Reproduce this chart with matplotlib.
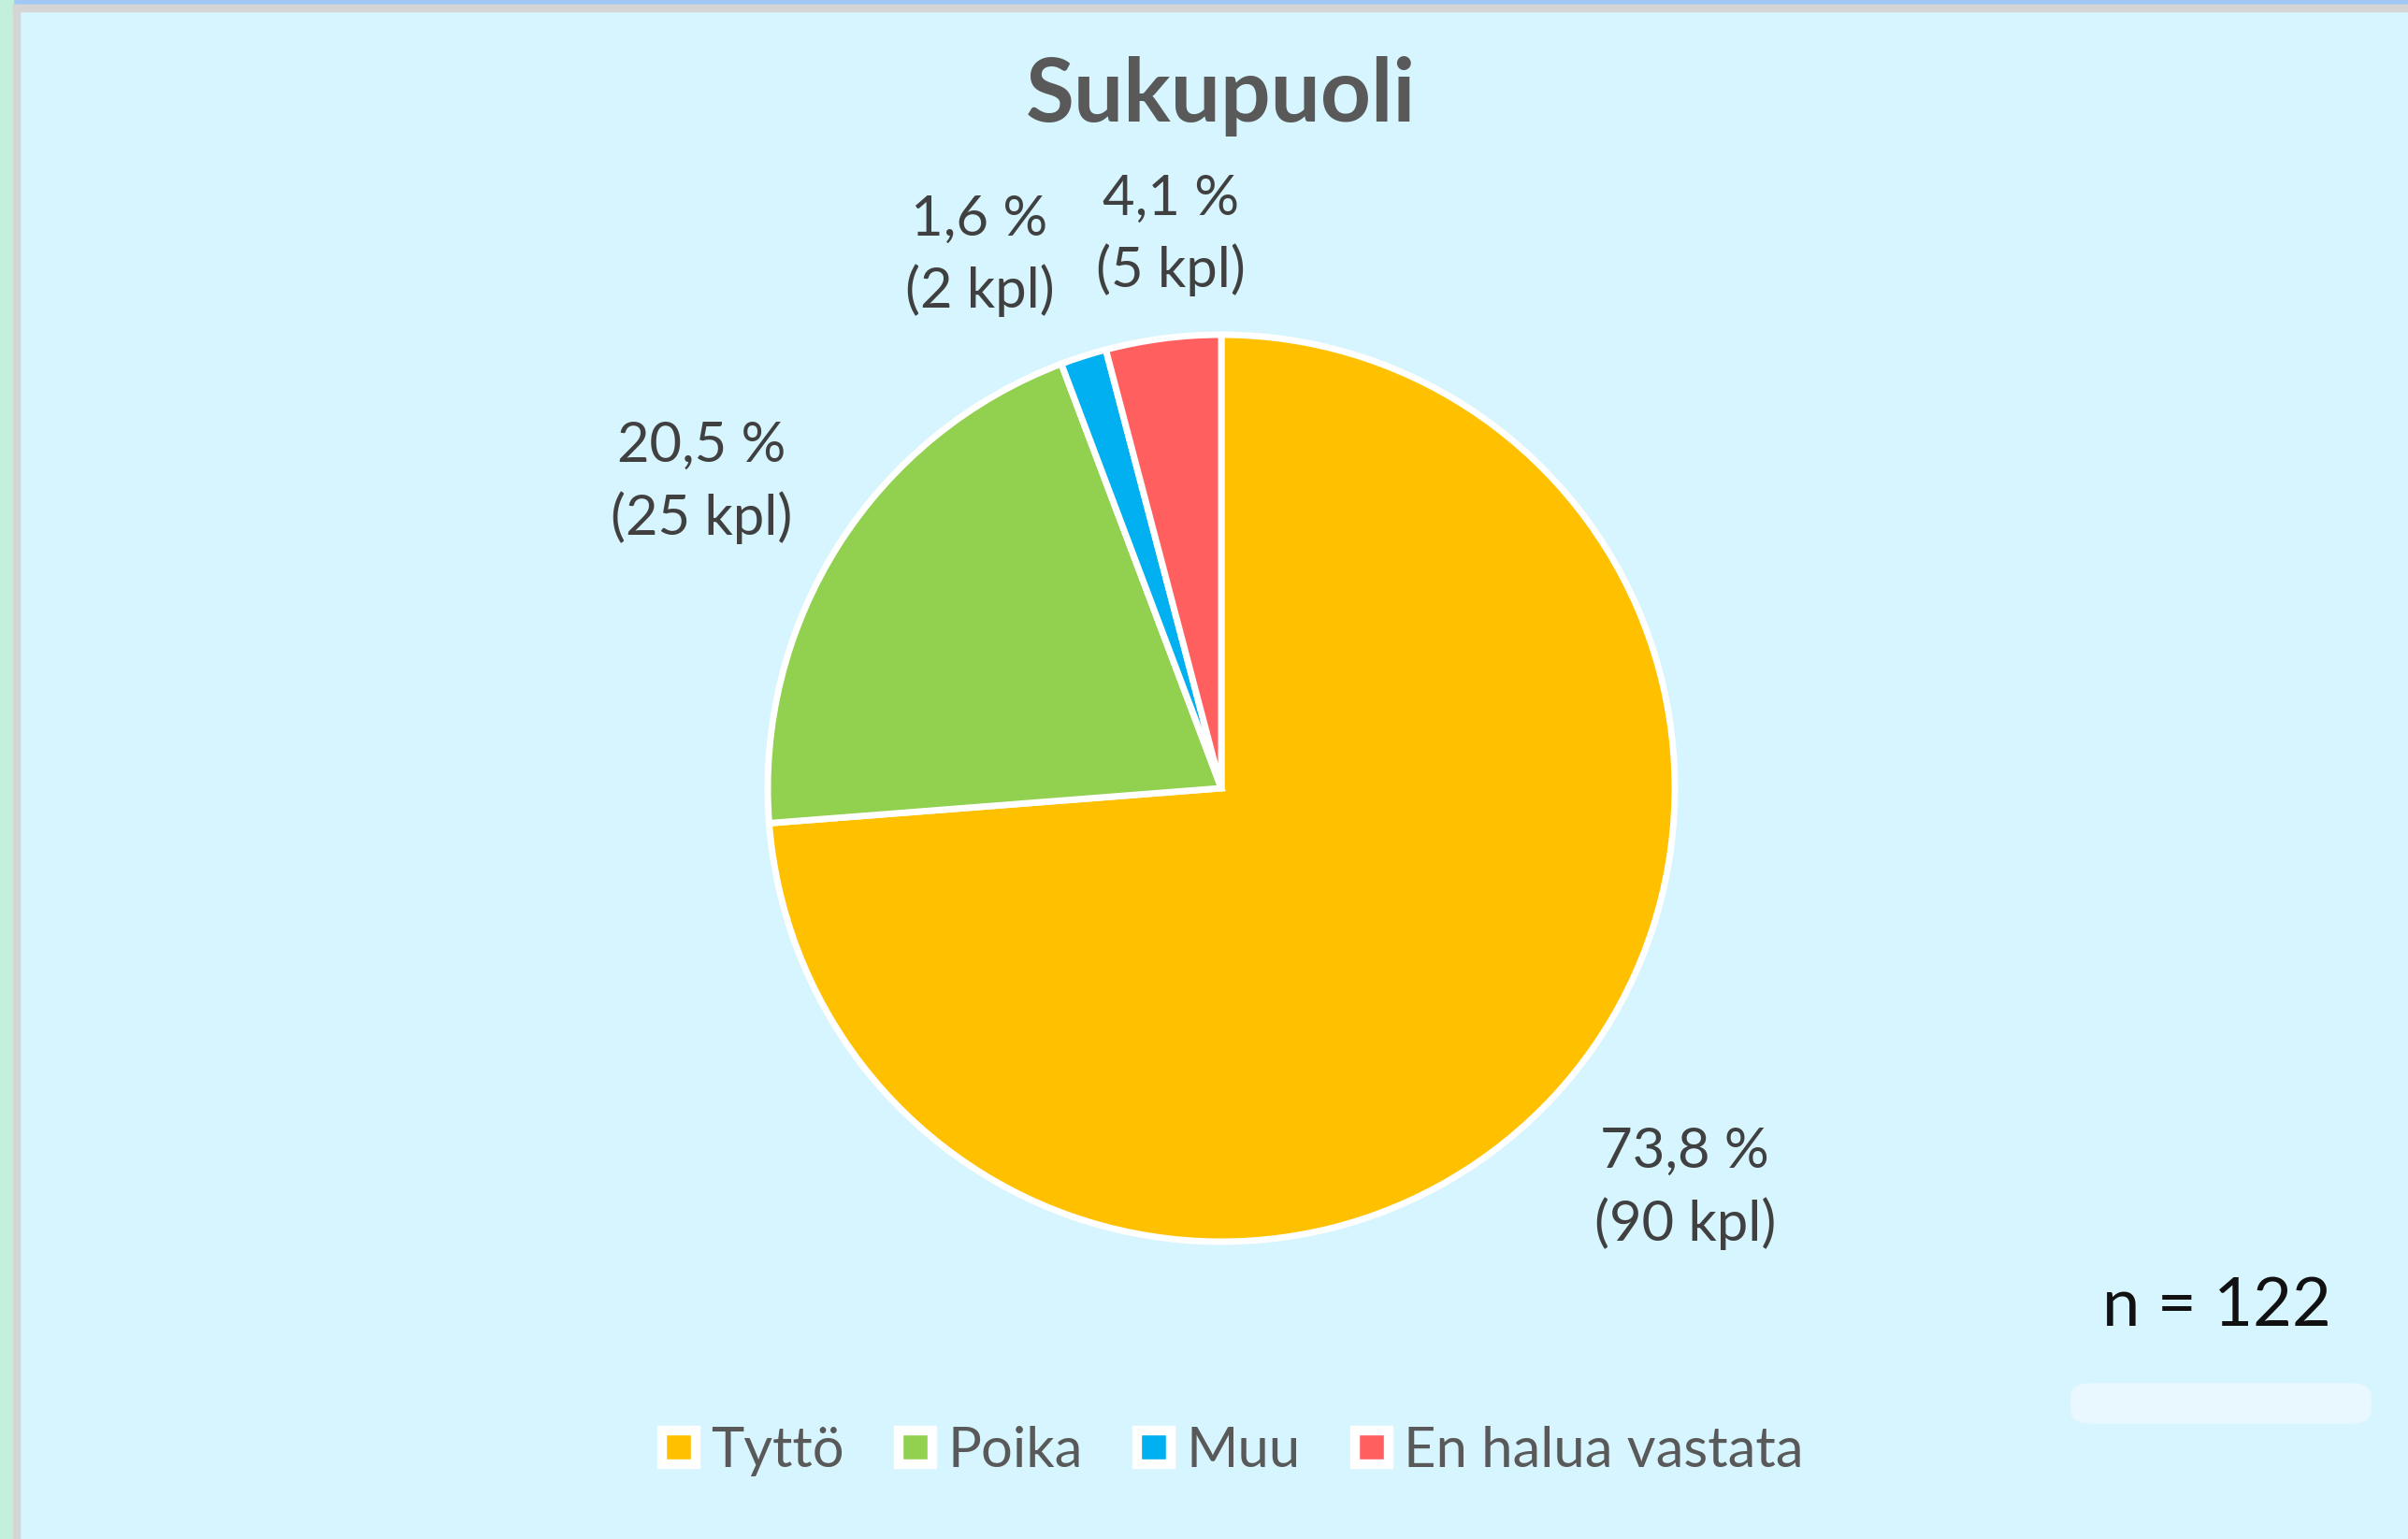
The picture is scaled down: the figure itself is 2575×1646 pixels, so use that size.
import numpy as np
import matplotlib
matplotlib.use('Agg')
import matplotlib.pyplot as plt
from matplotlib.patches import Rectangle, FancyBboxPatch
from matplotlib.lines import Line2D

plt.rcParams['font.family'] = ['Lato', 'DejaVu Sans']

categories = ['Tyttö', 'Poika', 'Muu', 'En halua vastata']
counts = [90, 25, 2, 5]
percents = ['73,8 %', '20,5 %', '1,6 %', '4,1 %']
colors = ['#FFC000', '#92D050', '#00B0F0', '#FF5F5F']
n_total = 122

W, H = 2575, 1646
cx, cy = 1306, 843   # pie centre in pixels (from top)
R = 485              # pie radius in pixels

fig = plt.figure(figsize=(W / 100, H / 100), dpi=100)
fig.patch.set_facecolor('#D6F5FE')

# outer frame strips
def frect(x0, y0, w, h, c):
    fig.patches.append(Rectangle((x0 / W, 1 - (y0 + h) / H), w / W, h / H,
                                 transform=fig.transFigure, color=c, zorder=0))

frect(0, 0, W, 5, '#A2C9F6')
frect(0, 0, 14, H, '#C2F0DC')
frect(14, 5, W - 14, 7, '#D5D5D5')
frect(14, 5, 7, H - 5, '#D5D5D5')

ax = fig.add_axes([0, 0, 1, 1])
ax.set_facecolor('none')

wedges, _ = ax.pie(counts, colors=colors, startangle=90, counterclock=False,
                   radius=1, wedgeprops=dict(edgecolor='white', linewidth=5))

ax.set_xlim(-cx / R, (W - cx) / R)
ax.set_ylim(-(H - cy) / R, cy / R)
ax.set_aspect('equal')
ax.axis('off')

# data labels
label_dist = [1.35, 1.33, 1.29, 1.225]
label_ang_shift = [2, 2, 6.7, -2.2]
for w, p, c, d, s in zip(wedges, percents, counts, label_dist, label_ang_shift):
    ang = np.deg2rad((w.theta1 + w.theta2) / 2 + s)
    ax.text(d * np.cos(ang), d * np.sin(ang), '{}\n({} kpl)'.format(p, c),
            ha='center', va='center', fontsize=43, color='#404040',
            linespacing=1.45)

fig.text(1305 / W, 1 - 103 / H, 'Sukupuoli', ha='center', va='center',
         fontsize=68, fontweight='bold', color='#595959')

# highlight smear under n
fig.patches.append(FancyBboxPatch((2215 / W, 1 - 1522 / H), 320 / W, 42 / H,
                                  boxstyle='round,pad=0,rounding_size=0.008',
                                  transform=fig.transFigure, color='#E8F8FE',
                                  zorder=1))
fig.text(2370 / W, 1 - 1398 / H, 'n = {}'.format(n_total), ha='center',
         va='center', fontsize=52, color='#111111')

handles = [Line2D([], [], marker='s', linestyle='none', markersize=25.5,
                  markerfacecolor=c, markeredgecolor='white',
                  markeredgewidth=7.5) for c in colors]
leg = fig.legend(handles, categories, loc='center', ncol=4, frameon=False,
                 bbox_to_anchor=(1316 / W, 1 - 1552 / H), fontsize=43,
                 handletextpad=0.2, columnspacing=0.9, handlelength=0.75)
for t in leg.get_texts():
    t.set_color('#595959')

fig.savefig('out.png', dpi=100, facecolor=fig.get_facecolor())
